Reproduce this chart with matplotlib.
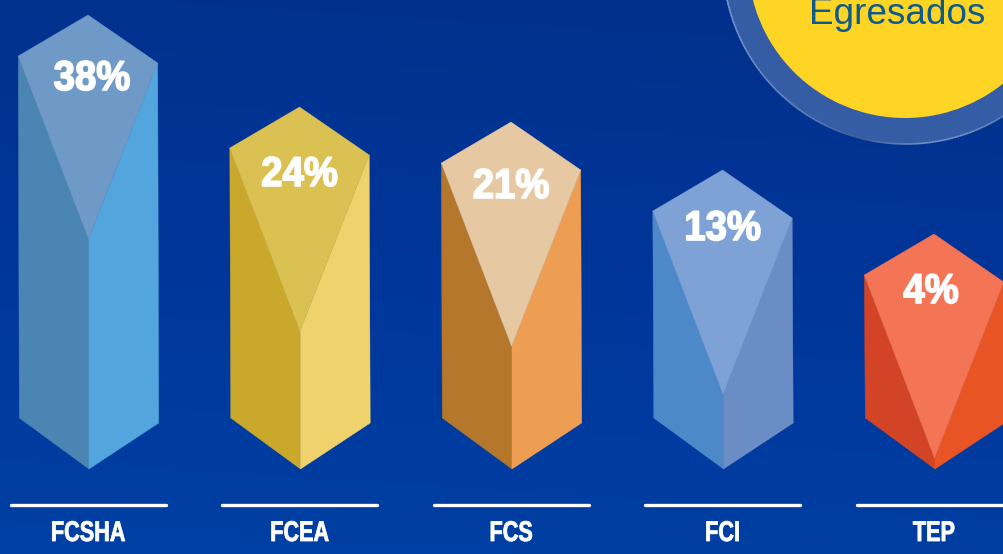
import matplotlib
matplotlib.use("Agg")
import matplotlib.pyplot as plt
import numpy as np
from matplotlib.patches import Polygon, Circle
from matplotlib.colors import LinearSegmentedColormap
from matplotlib.collections import LineCollection
from matplotlib.patheffects import AbstractPathEffect
from matplotlib.transforms import Affine2D

categories = ["FCSHA", "FCEA", "FCS", "FCI", "TEP"]
percent = [38, 24, 21, 13, 4]
bar_heights = [454, 362, 347, 299, 235]  # drawn height of each prism
top_colors = ["#6f9ac7", "#dbc152", "#e6c9a3", "#7fa2d6", "#f47555"]
left_colors = ["#4a85b3", "#c9a82c", "#b5772b", "#4d89c9", "#d24425"]
right_colors = ["#52a5dd", "#efd26c", "#ee9e52", "#6a8dc6", "#e95425"]
label_drop = [64, 68, 65, 59, 58]
label_shift = [4, 0, 0, 0, -3]
center_title = "Egresados"

W, H = 1004, 554
X0, DX, Y0 = 88.5, 211.5, 469
HALF = 70


class Squeeze(AbstractPathEffect):
    """Narrow the glyph outlines of a real text about its own middle."""

    def __init__(self, sx, stroke=0.0):
        super().__init__()
        self.sx, self.stroke = sx, stroke

    def draw_path(self, renderer, gc, tpath, affine, rgbFace):
        ext = tpath.get_extents()
        mid = (ext.x0 + ext.x1) / 2
        t = Affine2D().translate(-mid, 0).scale(self.sx, 1).translate(mid, 0) + affine
        gc0 = renderer.new_gc()
        gc0.copy_properties(gc)
        gc0.set_linewidth(self.stroke)
        gc0.set_foreground(rgbFace)
        renderer.draw_path(gc0, tpath, t, rgbFace)
        gc0.restore()


fig = plt.figure(figsize=(W / 100, H / 100), dpi=100)
ax = fig.add_axes([0, 0, 1, 1])
ax.set_xlim(-X0, W - X0)
ax.set_ylim(Y0 - H, Y0)
ax.axis("off")

cmap = LinearSegmentedColormap.from_list("bg", ["#00308a", "#00369a", "#0040a4"])
gx, gy = np.meshgrid(np.linspace(0, 1, 200), np.linspace(0, 1, 200))
ax.imshow(0.9 * gy + 0.1 * (1 - gx), cmap=cmap, extent=ax.get_xlim() + ax.get_ylim(),
          origin="upper", aspect="auto", vmin=0, vmax=1, zorder=0)

# Circle in the top right corner
cx, cy = 905 - X0, Y0 + 39
R_OUT = 183
ax.add_patch(Circle((cx + 1, cy), R_OUT, fc="#355da5", ec="none", zorder=1))
th = np.radians(np.linspace(185, 320, 136))
px, py = cx + 1 + R_OUT * np.cos(th), cy + R_OUT * np.sin(th)
segs = np.stack([np.c_[px[:-1], py[:-1]], np.c_[px[1:], py[1:]]], axis=1)
rim = LinearSegmentedColormap.from_list(
    "rim", [(0, "#7f9bd0"), (0.38, "#6080b8"), (0.52, "#3f5c94"), (0.66, "#6f8fc4"),
            (0.78, "#7090c8"), (1, "#3f5c94")])
ax.add_collection(LineCollection(segs, colors=rim(np.linspace(0, 1, len(segs))), lw=1.2, zorder=1.5))
ax.add_patch(Circle((cx, cy), 157, fc="#ffd525", ec="none", zorder=2))
ax.text(985 - X0, Y0 - 24, center_title, color="#0d5b8e", fontsize=26.6, ha="right", va="baseline",
        family=["Liberation Sans", "DejaVu Sans"], zorder=3)

heavy = ["Liberation Sans", "DejaVu Sans"]
for i, cat in enumerate(categories):
    base = i * DX + 0.5
    top = bar_heights[i]
    xt = base - 1
    tl = (xt - HALF + 0.3, top - 41)
    tr = (xt + HALF - 0.3, top - 48)
    tip = (xt, top)
    kite = (xt + 0.5, top - 224)
    bl = (base - HALF + 0.3, 51)
    br = (base + HALF - 0.3, 46)
    bottom = (base, 0)
    mid = (base, max(kite[1], 0))
    for pts, col, z in [([tl, kite, mid, bottom, bl], left_colors[i], 3),
                        ([tr, kite, mid, bottom, br], right_colors[i], 3.1),
                        ([tl, tip, tr, kite], top_colors[i], 4)]:
        ax.add_patch(Polygon(pts, fc=col, ec=col, lw=0.3, zorder=z))
    ax.text(xt + label_shift[i], top - label_drop[i], f"{percent[i]}%", color="white",
            fontsize=30, fontweight="bold", ha="center", va="center", family=heavy, zorder=5,
            path_effects=[Squeeze(0.92, 1.2)])
    ax.plot([base - 78, base + 76.5], [-36, -36], color="white", lw=2.4,
            solid_capstyle="round", zorder=3)
    ax.text(base - 1, -65, cat, color="white", fontsize=20.5, fontweight="bold",
            ha="center", va="center", family=heavy, zorder=3,
            path_effects=[Squeeze(0.76, 0.6)])

fig.savefig("out.png", dpi=100)
